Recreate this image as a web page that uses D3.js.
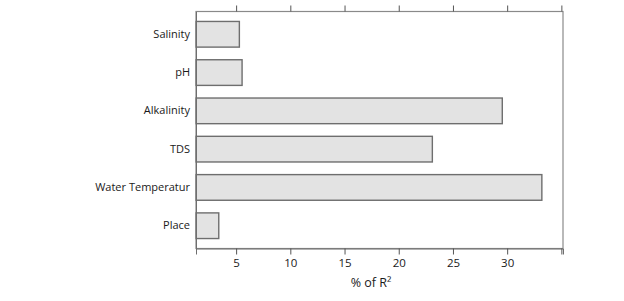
<!DOCTYPE html>
<html>
<head>
<meta charset="utf-8">
<script src="https://cdn.jsdelivr.net/npm/d3@7"></script>
<style>
  body { margin: 0; background: #fff; }
  text { font-family: "Open Sans", "Liberation Sans", sans-serif; }
</style>
</head>
<body>
<div id="container"></div>
<script>
// data
const categories = ["Salinity", "pH", "Alkalinity", "TDS", "Water Temperatur", "Place"];
const values = [5.3, 5.55, 29.55, 23.1, 33.2, 3.4];
const xTicks = [5, 10, 15, 20, 25, 30, 35];
const xLabel = "% of R²";

const W = 624, H = 301;
const plot = {left: 196, right: 563, top: 11.5, bottom: 248.5};

const svg = d3.select("#container")
  .append("svg")
  .attr("width", W)
  .attr("height", H);

const x = d3.scaleLinear()
  .domain([1.3, 35.15])
  .range([plot.left, plot.right]);

const y = d3.scaleBand()
  .domain(categories)
  .range([plot.top, plot.bottom])
  .paddingInner(0.33)
  .paddingOuter(0.26);

// bars
svg.append("g")
  .selectAll("rect")
  .data(categories)
  .join("rect")
  .attr("x", x(x.domain()[0]))
  .attr("y", d => y(d))
  .attr("width", (d, i) => x(values[i]) - x(x.domain()[0]))
  .attr("height", y.bandwidth())
  .attr("fill", "#e3e3e3")
  .attr("stroke", "#6e6e6e")
  .attr("stroke-width", 1.4);

// frame
svg.append("rect")
  .attr("x", plot.left)
  .attr("y", plot.top)
  .attr("width", plot.right - plot.left)
  .attr("height", plot.bottom - plot.top)
  .attr("fill", "none")
  .attr("stroke", "#8a8a8a")
  .attr("stroke-width", 1.2);

// bottom axis
const xAxis = svg.append("g")
  .attr("transform", `translate(0,${plot.bottom})`)
  .call(d3.axisBottom(x).tickValues(xTicks).tickSize(6).tickPadding(4)
    .tickFormat(d => d === 35 ? "" : d));
xAxis.select(".domain").attr("stroke", "#6e6e6e");
xAxis.selectAll(".tick line").attr("stroke", "#555");
xAxis.selectAll("text").attr("fill", "#1a1a1a").style("font-size", "11.5px");

// top ticks
const topAxis = svg.append("g")
  .attr("transform", `translate(0,${plot.top})`)
  .call(d3.axisTop(x).tickValues(xTicks).tickSize(6).tickFormat(""));
topAxis.select(".domain").remove();
topAxis.selectAll(".tick line").attr("stroke", "#555");

// left axis labels
const yAxis = svg.append("g")
  .attr("transform", `translate(${plot.left},0)`)
  .call(d3.axisLeft(y).tickSize(0).tickPadding(6));
yAxis.select(".domain").attr("stroke", "#6e6e6e");
yAxis.selectAll("text").attr("fill", "#1a1a1a").style("font-size", "11px");

// axis title
svg.append("text")
  .attr("x", 371)
  .attr("y", 287)
  .attr("text-anchor", "middle")
  .attr("fill", "#1a1a1a")
  .style("font-size", "12.5px")
  .text(xLabel);
</script>
</body>
</html>
